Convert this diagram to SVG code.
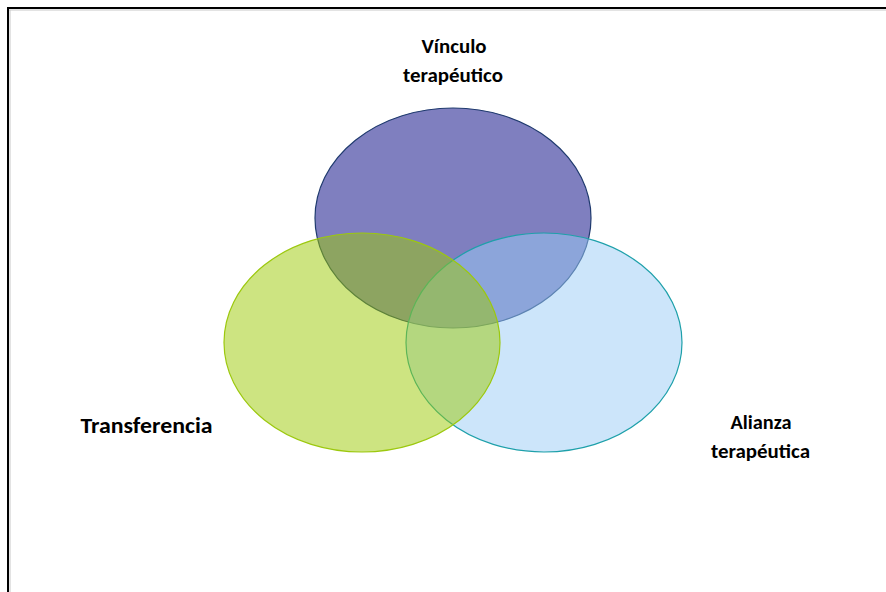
<svg xmlns="http://www.w3.org/2000/svg" width="886" height="592" viewBox="0 0 886 592">
<style>
.lbl{font-family:Carlito,Lato,"Liberation Sans",sans-serif;font-weight:bold;fill:#000;text-anchor:middle}
.ell{fill-opacity:0.5;stroke-width:1.2}
</style>
<rect width="886" height="592" fill="#fff"/>
<g id="frame">
<line x1="7" y1="10" x2="886" y2="10" stroke="#c8c8c8" stroke-width="1"/>
<line x1="10" y1="10" x2="10" y2="592" stroke="#c8c8c8" stroke-width="1"/>
<line x1="7" y1="8" x2="886" y2="8" stroke="#000" stroke-width="2"/>
<line x1="8" y1="7" x2="8" y2="592" stroke="#000" stroke-width="2"/>
</g>
<g id="connectors"></g>
<g id="vinculo">
<ellipse class="ell" cx="453" cy="218" rx="138" ry="110" fill="#000080" stroke="#1f3a6e"/>
<text class="lbl" x="454" y="53" font-size="20" textLength="65" lengthAdjust="spacingAndGlyphs">Vínculo</text>
<text class="lbl" x="453" y="82" font-size="20" textLength="100" lengthAdjust="spacingAndGlyphs">terapéutico</text>
</g>
<g id="alianza">
<ellipse class="ell" cx="544" cy="342.5" rx="138" ry="109.5" fill="#99cbf5" stroke="#1ea0aa"/>
<text class="lbl" x="761" y="429" font-size="20" textLength="61" lengthAdjust="spacingAndGlyphs">Alianza</text>
<text class="lbl" x="760.5" y="458" font-size="20" textLength="99" lengthAdjust="spacingAndGlyphs">terapéutica</text>
</g>
<g id="transferencia">
<ellipse class="ell" cx="362" cy="342.5" rx="138" ry="109.5" fill="#9bc903" stroke="#9cc80e"/>
<text class="lbl" x="146.5" y="433" font-size="22" textLength="132" lengthAdjust="spacingAndGlyphs">Transferencia</text>
</g>
</svg>
